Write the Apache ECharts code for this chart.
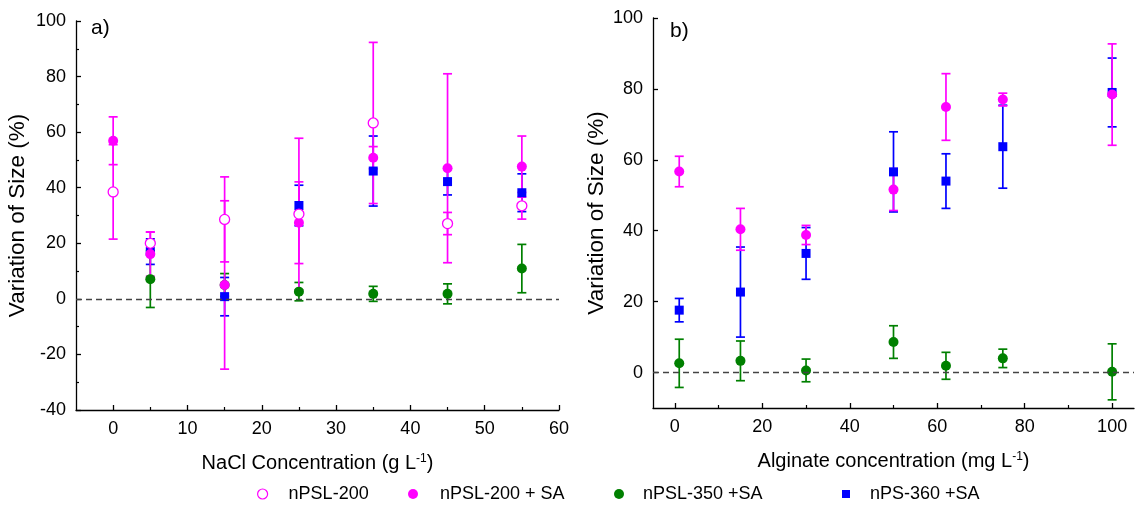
<!DOCTYPE html>
<html>
<head>
<meta charset="utf-8">
<script src="https://cdn.jsdelivr.net/npm/echarts@6/dist/echarts.min.js"></script>
<style>
html,body{margin:0;padding:0;background:#fff;}
#chart{width:1138px;height:509px;}
</style>
</head>
<body>
<div id="chart"></div>
<script>
// ---- Panel a) : NaCl concentration (g L-1) ----
const naclX = [0, 5, 15, 25, 35, 45, 55];
const a_nPSL200     = [38.5, 20.0, 28.6, 30.5, 63.3, 27.1, 33.5];
const a_nPSL200_err = [17.0, 4.0, 15.3, 27.3, 29.0, 4.0, 4.8];
const a_nPSL200SA     = [56.9, 16.1, 5.0, 27.4, 50.8, 47.0, 47.6];
const a_nPSL200SA_err = [8.6, 8.0, 30.3, 14.7, 4.0, 34.0, 11.0];
const naclX2 = [5, 15, 25, 35, 45, 55];
const a_nPSL350SA     = [7.1, 5.0, 2.6, 1.8, 1.8, 10.9];
const a_nPSL350SA_err = [10.2, 4.1, 3.3, 2.7, 3.6, 8.7];
const a_nPS360SA      = [17.0, 0.8, 33.6, 46.0, 42.2, 38.2];
const a_nPS360SA_err  = [4.6, 6.9, 7.3, 12.6, 4.8, 6.8];

// ---- Panel b) : Alginate concentration (mg L-1) ----
const algX = [1, 15, 30, 50, 62, 75, 100];
const b_nPSL200SA     = [56.7, 40.4, 38.8, 51.6, 74.9, 77.0, 78.4];
const b_nPSL200SA_err = [4.3, 5.9, 2.7, 5.9, 9.4, 1.8, 14.3];
const b_nPSL350SA     = [2.6, 3.3, 0.6, 8.6, 1.9, 4.0, 0.2];
const b_nPSL350SA_err = [6.8, 5.6, 3.2, 4.6, 3.8, 2.6, 7.9];
const b_nPS360SA      = [17.6, 22.7, 33.6, 56.6, 54.0, 63.7, 79.0];
const b_nPS360SA_err  = [3.3, 12.7, 7.3, 11.3, 7.7, 11.7, 9.7];

// ---- tick labels ----
const a_xTicks = [0, 10, 20, 30, 40, 50, 60];
const a_xMinor = [5, 15, 25, 35, 45, 55];
const b_xTicks = [0, 20, 40, 60, 80, 100];
const b_xMinor = [10, 30, 50, 70, 90];
const b_yTicks = [0, 20, 40, 60, 80, 100];

const NAMES = ['nPSL-200', 'nPSL-200 + SA', 'nPSL-350 +SA', 'nPS-360 +SA'];
const MAGENTA = '#FF00FF', GREEN = '#008000', BLUE = '#0000FF';
const FONT = "'Liberation Sans', Arial, sans-serif";

function errSeries(xs, ys, es, color, axIdx) {
  return {
    type: 'custom', name: 'err', xAxisIndex: axIdx, yAxisIndex: axIdx,
    data: xs.map((x, i) => [x, ys[i] - es[i], ys[i] + es[i]]),
    encode: {x: 0, y: [1, 2]},
    silent: true,
    renderItem: function (params, api) {
      const x = api.value(0);
      const lo = api.coord([x, api.value(1)]);
      const hi = api.coord([x, api.value(2)]);
      const w = 4.5;
      const st = {stroke: color, lineWidth: 1.7};
      return {type: 'group', children: [
        {type: 'line', shape: {x1: lo[0], y1: lo[1], x2: hi[0], y2: hi[1]}, style: st},
        {type: 'line', shape: {x1: hi[0] - w, y1: hi[1], x2: hi[0] + w, y2: hi[1]}, style: st},
        {type: 'line', shape: {x1: lo[0] - w, y1: lo[1], x2: lo[0] + w, y2: lo[1]}, style: st}
      ]};
    }
  };
}
function scat(name, xs, ys, axIdx, symbol, size, itemStyle) {
  return {
    type: 'scatter', name: name, xAxisIndex: axIdx, yAxisIndex: axIdx,
    data: xs.map((x, i) => [x, ys[i]]),
    symbol: symbol, symbolSize: size, itemStyle: Object.assign({opacity: 1}, itemStyle)
  };
}
const zeroLine = {
  silent: true, symbol: 'none', label: {show: false},
  lineStyle: {type: [6, 4], color: '#444', width: 1.3},
  data: [{yAxis: 0}]
};

const series = [];
// panel a
series.push(errSeries(naclX2, a_nPS360SA, a_nPS360SA_err, BLUE, 0));
const sa = scat(NAMES[3], naclX2, a_nPS360SA, 0, 'rect', 9, {color: BLUE});
sa.markLine = zeroLine; series.push(sa);
series.push(errSeries(naclX2, a_nPSL350SA, a_nPSL350SA_err, GREEN, 0));
series.push(scat(NAMES[2], naclX2, a_nPSL350SA, 0, 'circle', 10, {color: GREEN}));
series.push(errSeries(naclX, a_nPSL200SA, a_nPSL200SA_err, MAGENTA, 0));
series.push(scat(NAMES[1], naclX, a_nPSL200SA, 0, 'circle', 10, {color: MAGENTA}));
series.push(errSeries(naclX, a_nPSL200, a_nPSL200_err, MAGENTA, 0));
series.push(scat(NAMES[0], naclX, a_nPSL200, 0, 'circle', 10, {color: '#fff', borderColor: MAGENTA, borderWidth: 1.3}));
// panel b
series.push(errSeries(algX, b_nPS360SA, b_nPS360SA_err, BLUE, 1));
const sb = scat(NAMES[3], algX, b_nPS360SA, 1, 'rect', 9, {color: BLUE});
sb.markLine = zeroLine; series.push(sb);
series.push(errSeries(algX, b_nPSL350SA, b_nPSL350SA_err, GREEN, 1));
series.push(scat(NAMES[2], algX, b_nPSL350SA, 1, 'circle', 10, {color: GREEN}));
series.push(errSeries(algX, b_nPSL200SA, b_nPSL200SA_err, MAGENTA, 1));
series.push(scat(NAMES[1], algX, b_nPSL200SA, 1, 'circle', 10, {color: MAGENTA}));

const axisLine = {show: true, onZero: false, lineStyle: {color: '#000', width: 1.3}};
const lbl = {color: '#000', fontSize: 18, fontFamily: FONT};
const nameStyle = {color: '#000', fontSize: 20, fontFamily: FONT,
  rich: {s: {fontSize: 12, fontFamily: FONT, color: '#000', verticalAlign: 'top', padding: [0, 0, 8, 0]}}};
const yNameStyle = {color: '#000', fontSize: 22.5, fontFamily: FONT};

function legendItem(name, left, size, pad, extra) {
  return Object.assign({
    data: [name], left: left, top: 485, padding: 0, itemWidth: size, itemHeight: size,
    formatter: function (n) { return '{p|}{t|' + n + '}'; },
    textStyle: {color: '#000', fontSize: 18, fontFamily: FONT,
      rich: {p: {width: pad}, t: {color: '#000', fontSize: 18, fontFamily: FONT}}}
  }, extra || {});
}

const option = {
  animation: false,
  backgroundColor: '#fff',
  textStyle: {fontFamily: FONT},
  title: [
    {text: 'a)', left: 86, top: 13, textStyle: {fontSize: 21, fontWeight: 'normal', color: '#000', fontFamily: FONT}},
    {text: 'b)', left: 665, top: 16, textStyle: {fontSize: 21, fontWeight: 'normal', color: '#000', fontFamily: FONT}}
  ],
  grid: [
    {left: 76, top: 21, width: 483, height: 389},
    {left: 653, top: 18, width: 481, height: 390}
  ],
  xAxis: [
    {type: 'value', gridIndex: 0, min: -5, max: 60,
      name: 'NaCl Concentration (g L{s|-1})', nameLocation: 'middle', nameGap: 43, nameTextStyle: nameStyle,
      axisLine: axisLine, splitLine: {show: false},
      axisTick: {show: true, inside: true, length: 5, customValues: a_xTicks, lineStyle: {color: '#000', width: 1.3}},
      axisLabel: Object.assign({customValues: a_xTicks, margin: 10}, lbl)},
    {type: 'value', gridIndex: 1, min: -5, max: 105,
      name: 'Alginate concentration (mg L{s|-1})', nameLocation: 'middle', nameGap: 43, nameTextStyle: nameStyle,
      axisLine: axisLine, splitLine: {show: false},
      axisTick: {show: true, inside: true, length: 5, customValues: b_xTicks, lineStyle: {color: '#000', width: 1.3}},
      axisLabel: Object.assign({customValues: b_xTicks, margin: 10}, lbl)},
    {type: 'value', gridIndex: 0, min: -5, max: 60, position: 'bottom',
      axisLine: {show: false, onZero: false}, splitLine: {show: false}, axisLabel: {show: false},
      axisTick: {show: true, inside: true, length: 3, customValues: a_xMinor, lineStyle: {color: '#000', width: 1.2}}},
    {type: 'value', gridIndex: 1, min: -5, max: 105, position: 'bottom',
      axisLine: {show: false, onZero: false}, splitLine: {show: false}, axisLabel: {show: false},
      axisTick: {show: true, inside: true, length: 3, customValues: b_xMinor, lineStyle: {color: '#000', width: 1.2}}}
  ],
  yAxis: [
    {type: 'value', gridIndex: 0, min: -40, max: 100, interval: 20,
      name: 'Variation of Size (%)', nameLocation: 'middle', nameGap: 47, nameTextStyle: yNameStyle,
      axisLine: axisLine, splitLine: {show: false},
      axisTick: {show: true, inside: true, length: 5, lineStyle: {color: '#000', width: 1.3}},
      minorTick: {show: true, splitNumber: 2, length: 3, lineStyle: {color: '#000', width: 1.2}},
      axisLabel: Object.assign({margin: 10}, lbl)},
    {type: 'value', gridIndex: 1, min: -10, max: 100,
      name: 'Variation of Size (%)', nameLocation: 'middle', nameGap: 45, nameTextStyle: yNameStyle,
      axisLine: axisLine, splitLine: {show: false},
      axisTick: {show: true, inside: true, length: 5, customValues: b_yTicks, lineStyle: {color: '#000', width: 1.3}},
      axisLabel: Object.assign({customValues: b_yTicks, margin: 10}, lbl)}
  ],
  legend: [
    legendItem(NAMES[0], 257, 10, 16, {itemStyle: {borderWidth: 1.2}}),
    legendItem(NAMES[1], 408, 10, 17),
    legendItem(NAMES[2], 614, 10, 14),
    legendItem(NAMES[3], 842, 8, 15)
  ],
  series: series
};
const chart = echarts.init(document.getElementById('chart'));
chart.setOption(option);
</script>
</body>
</html>
